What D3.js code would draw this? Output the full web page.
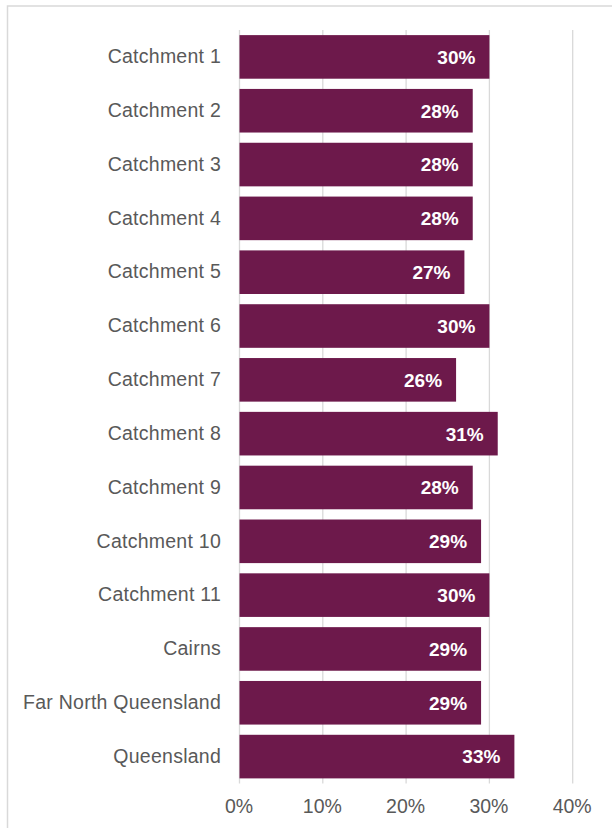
<!DOCTYPE html>
<html>
<head>
<meta charset="utf-8">
<script src="https://cdn.jsdelivr.net/npm/d3@7"></script>
<style>
  html, body { margin: 0; padding: 0; background: #ffffff; }
  svg { display: block; }
</style>
</head>
<body>
<svg id="chart" width="612" height="828"></svg>
<script>
// Share of population by area
const categories = [
  "Catchment 1", "Catchment 2", "Catchment 3", "Catchment 4", "Catchment 5",
  "Catchment 6", "Catchment 7", "Catchment 8", "Catchment 9", "Catchment 10",
  "Catchment 11", "Cairns", "Far North Queensland", "Queensland"
];
const values = [30, 28, 28, 28, 27, 30, 26, 31, 28, 29, 30, 29, 29, 33];
const tickValues = [0, 10, 20, 30, 40];
const tickLabels = ["0%", "10%", "20%", "30%", "40%"];

const svg = d3.select("#chart");
const font = "'Liberation Sans', Arial, sans-serif";
const barColor = "#6d194b";
const textColor = "#595959";
const gridColor = "#d9d9d9";

// Chart frame
svg.append("rect")
  .attr("x", 7.5).attr("y", 6)
  .attr("width", 640).attr("height", 860)
  .attr("fill", "none")
  .attr("stroke", gridColor)
  .attr("stroke-width", 1.5);

const plot = { left: 239.5, right: 572.7, top: 30, bottom: 783.5 };

const x = d3.scaleLinear().domain([0, 40]).range([plot.left, plot.right]);
const y = d3.scaleBand()
  .domain(categories)
  .range([plot.top, plot.bottom])
  .paddingInner(0.19)
  .paddingOuter(0.095);

// Vertical gridlines
svg.append("g")
  .selectAll("line")
  .data(tickValues)
  .join("line")
  .attr("x1", d => x(d)).attr("x2", d => x(d))
  .attr("y1", plot.top).attr("y2", plot.bottom)
  .attr("stroke", gridColor)
  .attr("stroke-width", 1.3);

// Bars
svg.append("g")
  .selectAll("rect")
  .data(categories)
  .join("rect")
  .attr("x", x(0))
  .attr("y", d => y(d))
  .attr("width", (d, i) => x(values[i]) - x(0))
  .attr("height", y.bandwidth())
  .attr("fill", barColor);

// Value labels inside bar ends
svg.append("g")
  .selectAll("text")
  .data(categories)
  .join("text")
  .attr("x", (d, i) => x(values[i]) - 14)
  .attr("y", d => y(d) + y.bandwidth() / 2)
  .attr("dy", "0.36em")
  .attr("text-anchor", "end")
  .attr("font-family", font)
  .attr("font-weight", "bold")
  .attr("font-size", "19px")
  .attr("fill", "#ffffff")
  .text((d, i) => values[i] + "%");

// Category axis labels
svg.append("g")
  .selectAll("text")
  .data(categories)
  .join("text")
  .attr("x", 221)
  .attr("y", d => y(d) + y.bandwidth() / 2)
  .attr("dy", "0.32em")
  .attr("text-anchor", "end")
  .attr("font-family", font)
  .attr("font-size", "19.5px")
  .attr("letter-spacing", "0.25px")
  .attr("fill", textColor)
  .text(d => d);

// Value axis labels
svg.append("g")
  .selectAll("text")
  .data(tickValues)
  .join("text")
  .attr("x", d => x(d) - 0.5)
  .attr("y", 812.5)
  .attr("text-anchor", "middle")
  .attr("font-family", font)
  .attr("font-size", "19.5px")
  .attr("fill", textColor)
  .text((d, i) => tickLabels[i]);
</script>
</body>
</html>
